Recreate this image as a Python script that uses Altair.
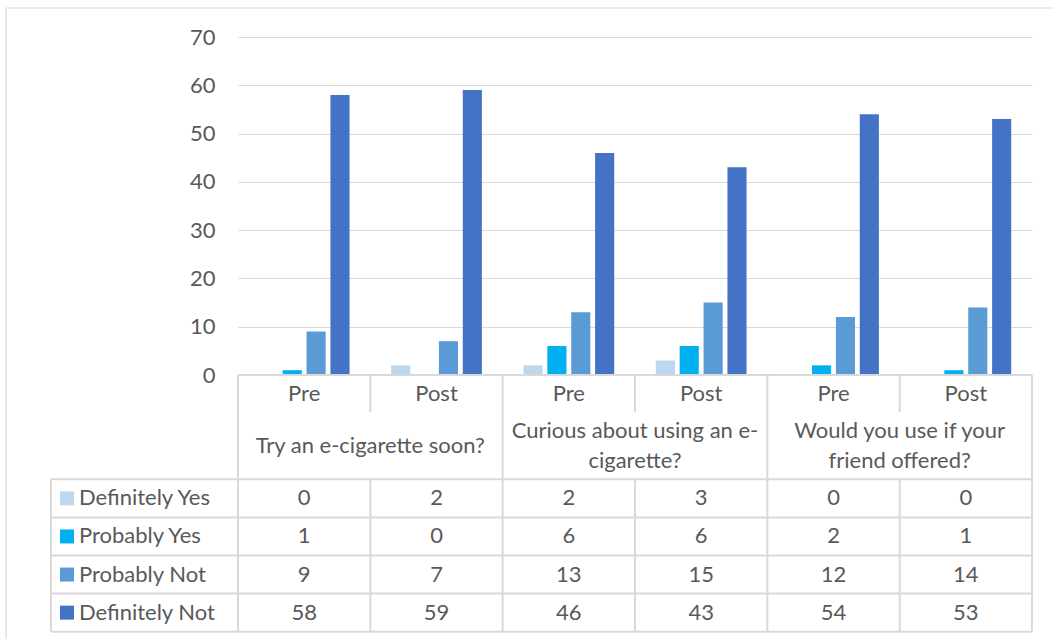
import altair as alt
import pandas as pd

# ---- data -------------------------------------------------------------
questions = [
    ["Try an e-cigarette soon?"],
    ["Curious about using an e-", "cigarette?"],
    ["Would you use if your", "friend offered?"],
]
phases = ["Pre", "Post"]
series = ["Definitely Yes", "Probably Yes", "Probably Not", "Definitely Not"]
colors = ["#BDD7EE", "#00B0F0", "#5B9BD5", "#4472C4"]

definitely_yes = [0, 2, 2, 3, 0, 0]
probably_yes = [1, 0, 6, 6, 2, 1]
probably_not = [9, 7, 13, 15, 12, 14]
definitely_not = [58, 59, 46, 43, 54, 53]
values = [definitely_yes, probably_yes, probably_not, definitely_not]

# ---- layout (pixels) --------------------------------------------------
PLOT_W, PLOT_H = 794, 338
COL_W = PLOT_W / 6
PHASE_ROW_H = 37          # Pre / Post row under the axis
DATA_TOP = 104.3          # top of the data-table rows, below the axis
ROW_H = 38.1
TABLE_H = DATA_TOP + 4 * ROW_H
LINE_GAP = 30             # line spacing of wrapped question labels
LEFT_COL_PX = -187        # left edge of the series-name column
KEY_PX = -171             # centre of the colour key squares
NAME_PX = -159            # start of the series names
FRAME_LEFT_PX, FRAME_RIGHT_PX = -232, 815
FRAME_TOP, FRAME_BOTTOM = -367, 264

FONT = "Lato"
FS = 22
TXT = "#595959"
LINE = "#d9d9d9"


def u(px):
    """pixel offset from the plot's left edge -> table column units"""
    return px / COL_W


slots = [f"{p} {g}" for g in range(3) for p in phases]

bars = pd.DataFrame(
    [
        {"slot": slots[j], "series": s, "value": values[k][j]}
        for k, s in enumerate(series)
        for j in range(6)
    ]
)

# table cell values
cells = pd.DataFrame(
    [
        {"x": j + 0.5, "y": DATA_TOP + (k + 0.5) * ROW_H, "text": str(values[k][j])}
        for k in range(4)
        for j in range(6)
    ]
)
phase_labels = pd.DataFrame(
    [{"x": j + 0.5, "y": PHASE_ROW_H / 2, "text": phases[j % 2]} for j in range(6)]
)

# question labels, one row per wrapped line, centred in their cell
q_mid = (PHASE_ROW_H + DATA_TOP) / 2
q_rows = []
for g, lines in enumerate(questions):
    n = len(lines)
    for i, line in enumerate(lines):
        q_rows.append({"x": 2 * g + 1, "y": q_mid + (i - (n - 1) / 2) * LINE_GAP, "text": line})
question_labels = pd.DataFrame(q_rows)

names = pd.DataFrame(
    [
        {"x": u(NAME_PX), "kx": u(KEY_PX), "y": DATA_TOP + (k + 0.5) * ROW_H, "series": s}
        for k, s in enumerate(series)
    ]
)

# table rules
rules = [{"x": 0, "x2": 6, "y": 0, "y2": 0}]
for k in range(5):
    yy = DATA_TOP + k * ROW_H
    rules.append({"x": u(LEFT_COL_PX), "x2": 6, "y": yy, "y2": yy})
rules.append({"x": u(LEFT_COL_PX), "x2": u(LEFT_COL_PX), "y": DATA_TOP, "y2": TABLE_H})
for j in [0, 2, 4, 6]:
    rules.append({"x": j, "x2": j, "y": 0, "y2": TABLE_H})
for j in [1, 3, 5]:
    rules.append({"x": j, "x2": j, "y": 0, "y2": PHASE_ROW_H})
    rules.append({"x": j, "x2": j, "y": DATA_TOP, "y2": TABLE_H})
rules = pd.DataFrame(rules)

frame = pd.DataFrame(
    [
        {"x": u(FRAME_LEFT_PX), "x2": u(FRAME_LEFT_PX), "y": FRAME_TOP, "y2": FRAME_BOTTOM},
        {"x": u(FRAME_LEFT_PX), "x2": u(FRAME_RIGHT_PX), "y": FRAME_TOP, "y2": FRAME_TOP},
    ]
)

# ---- scales -----------------------------------------------------------
tx = alt.Scale(domain=[0, 6], nice=False, zero=False)
ty = alt.Scale(domain=[0, TABLE_H], range=[PLOT_H, PLOT_H + TABLE_H], nice=False, zero=False)
color_scale = alt.Scale(domain=series, range=colors)

# ---- marks ------------------------------------------------------------
bar_layer = (
    alt.Chart(bars)
    .mark_bar()
    .encode(
        x=alt.X("slot:N", sort=slots, scale=alt.Scale(paddingInner=0, paddingOuter=0), axis=None),
        xOffset=alt.XOffset(
            "series:N", sort=series, scale=alt.Scale(paddingInner=0.2, paddingOuter=0.87)
        ),
        y=alt.Y(
            "value:Q",
            scale=alt.Scale(domain=[0, 70], nice=False),
            axis=alt.Axis(
                values=list(range(0, 71, 10)),
                grid=True,
                gridColor=LINE,
                gridWidth=1.2,
                domain=False,
                ticks=False,
                tickSize=0,
                labelPadding=23,
                labelFont=FONT,
                labelFontSize=FS,
                labelColor=TXT,
                title=None,
            ),
        ),
        color=alt.Color("series:N", scale=color_scale, legend=None),
    )
)


def seg_layer(df, color, width):
    return (
        alt.Chart(df)
        .mark_rule(color=color, strokeWidth=width)
        .encode(
            x=alt.X("x:Q", scale=tx, axis=None),
            x2="x2:Q",
            y=alt.Y("y:Q", scale=ty, axis=None),
            y2="y2:Q",
        )
    )


def text_layer(df, align="center"):
    return (
        alt.Chart(df)
        .mark_text(font=FONT, fontSize=FS, color=TXT, align=align, baseline="middle")
        .encode(
            x=alt.X("x:Q", scale=tx, axis=None),
            y=alt.Y("y:Q", scale=ty, axis=None),
            text="text:N",
        )
    )


table_rules = seg_layer(rules, LINE, 2)
frame_rules = seg_layer(frame, LINE, 1.2)

keys = (
    alt.Chart(names)
    .mark_square(size=196, opacity=1)
    .encode(
        x=alt.X("kx:Q", scale=tx, axis=None),
        y=alt.Y("y:Q", scale=ty, axis=None),
        color=alt.Color("series:N", scale=color_scale, legend=None),
    )
)
name_text = (
    alt.Chart(names)
    .mark_text(font=FONT, fontSize=FS, color=TXT, align="left", baseline="middle")
    .encode(
        x=alt.X("x:Q", scale=tx, axis=None),
        y=alt.Y("y:Q", scale=ty, axis=None),
        text="series:N",
    )
)

chart = (
    alt.layer(
        bar_layer,
        table_rules,
        frame_rules,
        text_layer(cells),
        text_layer(phase_labels),
        text_layer(question_labels),
        keys,
        name_text,
    )
    .resolve_scale(x="independent", y="independent")
    .properties(
        width=PLOT_W,
        height=PLOT_H,
        autosize=alt.AutoSizeParams(type="none"),
        padding={"left": 238, "top": 37, "right": 21, "bottom": 264},
        background="white",
    )
    .configure_view(stroke=None)
)

chart.save("out.html", embed_options={"renderer": "svg", "actions": False})
